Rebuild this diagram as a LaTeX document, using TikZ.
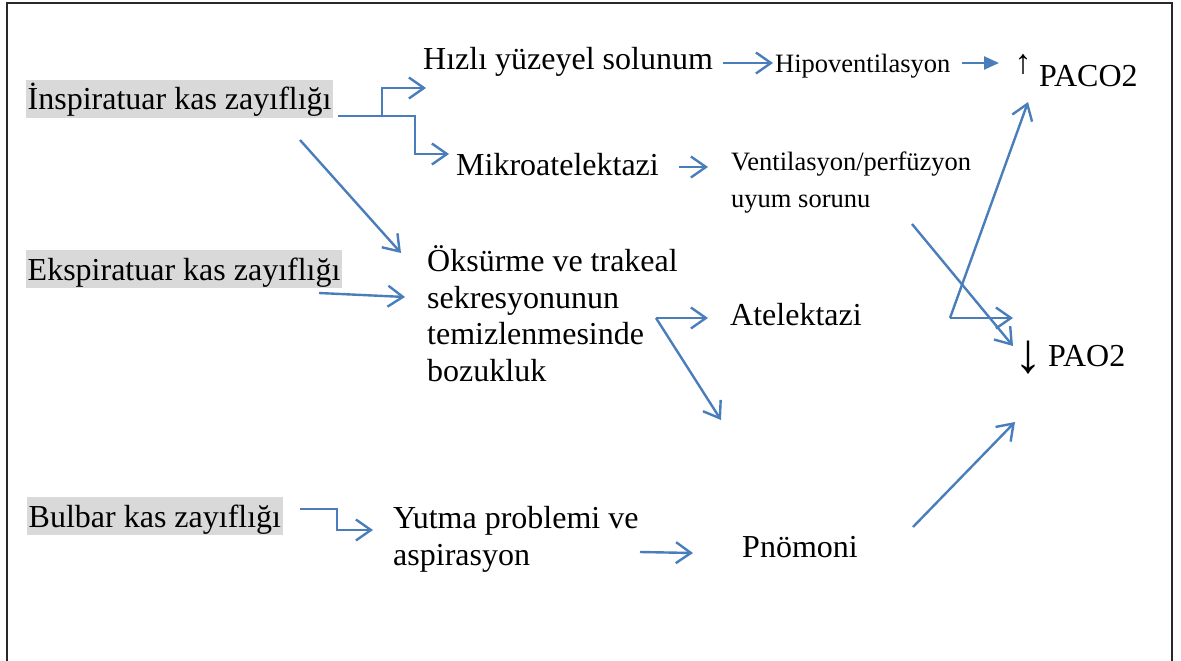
\documentclass[tikz,border=0pt]{standalone}
\usepackage{fontspec}
\setmainfont{Liberation Serif}
\usetikzlibrary{arrows.meta}
\definecolor{linkblue}{RGB}{74,126,187}
\definecolor{hlgray}{RGB}{217,217,217}
\definecolor{framec}{RGB}{40,40,40}
\begin{document}
\begin{tikzpicture}[x=1pt,y=-1pt,
  txt/.style={inner sep=0pt, anchor=base west, font=\fontsize{32}{37}\selectfont},
  sml/.style={inner sep=0pt, anchor=base west, font=\fontsize{26.5}{37}\selectfont},
  hl/.style={txt, fill=hlgray, inner xsep=1.5pt, text height=30pt, text depth=8pt},
  symb/.style={inner sep=0pt, anchor=center},
  link/.style={draw=linkblue, line width=2.4pt, line join=miter, -{Straight Barb[length=15pt,width=21pt]}},
  flink/.style={draw=linkblue, line width=2.4pt, -{Triangle[length=15pt,width=13pt]}},
  plain/.style={draw=linkblue, line width=2.4pt},
  frame/.style={draw=framec, line width=1.5pt}
]
\useasboundingbox (0,0) rectangle (1181,661);
\draw[frame] (7,3) rectangle (1172,700);

% texts
\node[hl]  (insp) at (26,110) {İnspiratuar kas zayıflığı};
\node[hl]  (eksp) at (26,280) {Ekspiratuar kas zayıflığı};
\node[hl]  (bulb) at (27,527) {Bulbar kas zayıflığı};
\node[txt] (hizli) at (423,70) {Hızlı yüzeyel solunum};
\node[sml] (hipo) at (775,73) {Hipoventilasyon};
\node[txt] (paco) at (1039,87) {PACO2};
\node[symb,font=\fontsize{34}{34}\selectfont] (up) at (1023,64) {↑};
\node[txt] (mikro) at (456,175) {Mikroatelektazi};
\node[sml] (vent1) at (731,170) {Ventilasyon/perfüzyon};
\node[sml] (vent2) at (731,207) {uyum sorunu};
\node[txt] (oks1) at (427,271) {Öksürme ve trakeal};
\node[txt] (oks2) at (427,308) {sekresyonunun};
\node[txt] (oks3) at (427,344) {temizlenmesinde};
\node[txt] (oks4) at (427,381) {bozukluk};
\node[txt] (atel) at (730,325) {Atelektazi};
\node[txt] (pao) at (1048,366) {PAO2};
\node[symb,font=\fontsize{56}{56}\selectfont] (down) at (1028,358) {↓};
\node[txt] (yutma) at (393,528) {Yutma problemi ve};
\node[txt] (aspi) at (393,565) {aspirasyon};
\node[txt] (pnom) at (742,557) {Pnömoni};

% connector coordinates
\coordinate (a1) at (338,116);
\coordinate (a2) at (382,116);
\coordinate (a3) at (382,88);
\coordinate (a4) at (426,88);
\coordinate (a5) at (415,116);
\coordinate (a6) at (415,154);
\coordinate (a7) at (449,154);
\coordinate (b1) at (300,140);
\coordinate (b2) at (401,253);
\coordinate (c1) at (319,293);
\coordinate (c2) at (405,297);
\coordinate (d1) at (723,63);
\coordinate (d2) at (773,63);
\coordinate (e1) at (962,63);
\coordinate (e2) at (999,63);
\coordinate (f1) at (679,167);
\coordinate (f2) at (708,167);
\coordinate (g1) at (912,224);
\coordinate (g2) at (1013,346);
\coordinate (h0) at (950,318);
\coordinate (h1) at (1028,102);
\coordinate (h2) at (1013,318);
\coordinate (k0) at (656,318);
\coordinate (k1) at (708,318);
\coordinate (k2) at (721,420);
\coordinate (m1) at (300,509);
\coordinate (m2) at (337,509);
\coordinate (m3) at (337,530);
\coordinate (m4) at (373,530);
\coordinate (n1) at (640,552);
\coordinate (n2) at (693,553);
\coordinate (p1) at (913,527);
\coordinate (p2) at (1015,422);

% connectors
\draw[plain] (a1) -- (a2);
\draw[link] (a2) -- (a3) -- (a4);
\draw[link] (a2) -- (a5) -- (a6) -- (a7);
\draw[link] (b1) -- (b2);
\draw[link] (c1) -- (c2);
\draw[link] (d1) -- (d2);
\draw[flink] (e1) -- (e2);
\draw[link] (f1) -- (f2);
\draw[link] (g1) -- (g2);
\draw[link] (h0) -- (h1);
\draw[link] (h0) -- (h2);
\draw[link] (k0) -- (k1);
\draw[link] (k0) -- (k2);
\draw[link] (m1) -- (m2) -- (m3) -- (m4);
\draw[link] (n1) -- (n2);
\draw[link] (p1) -- (p2);
\end{tikzpicture}
\end{document}
